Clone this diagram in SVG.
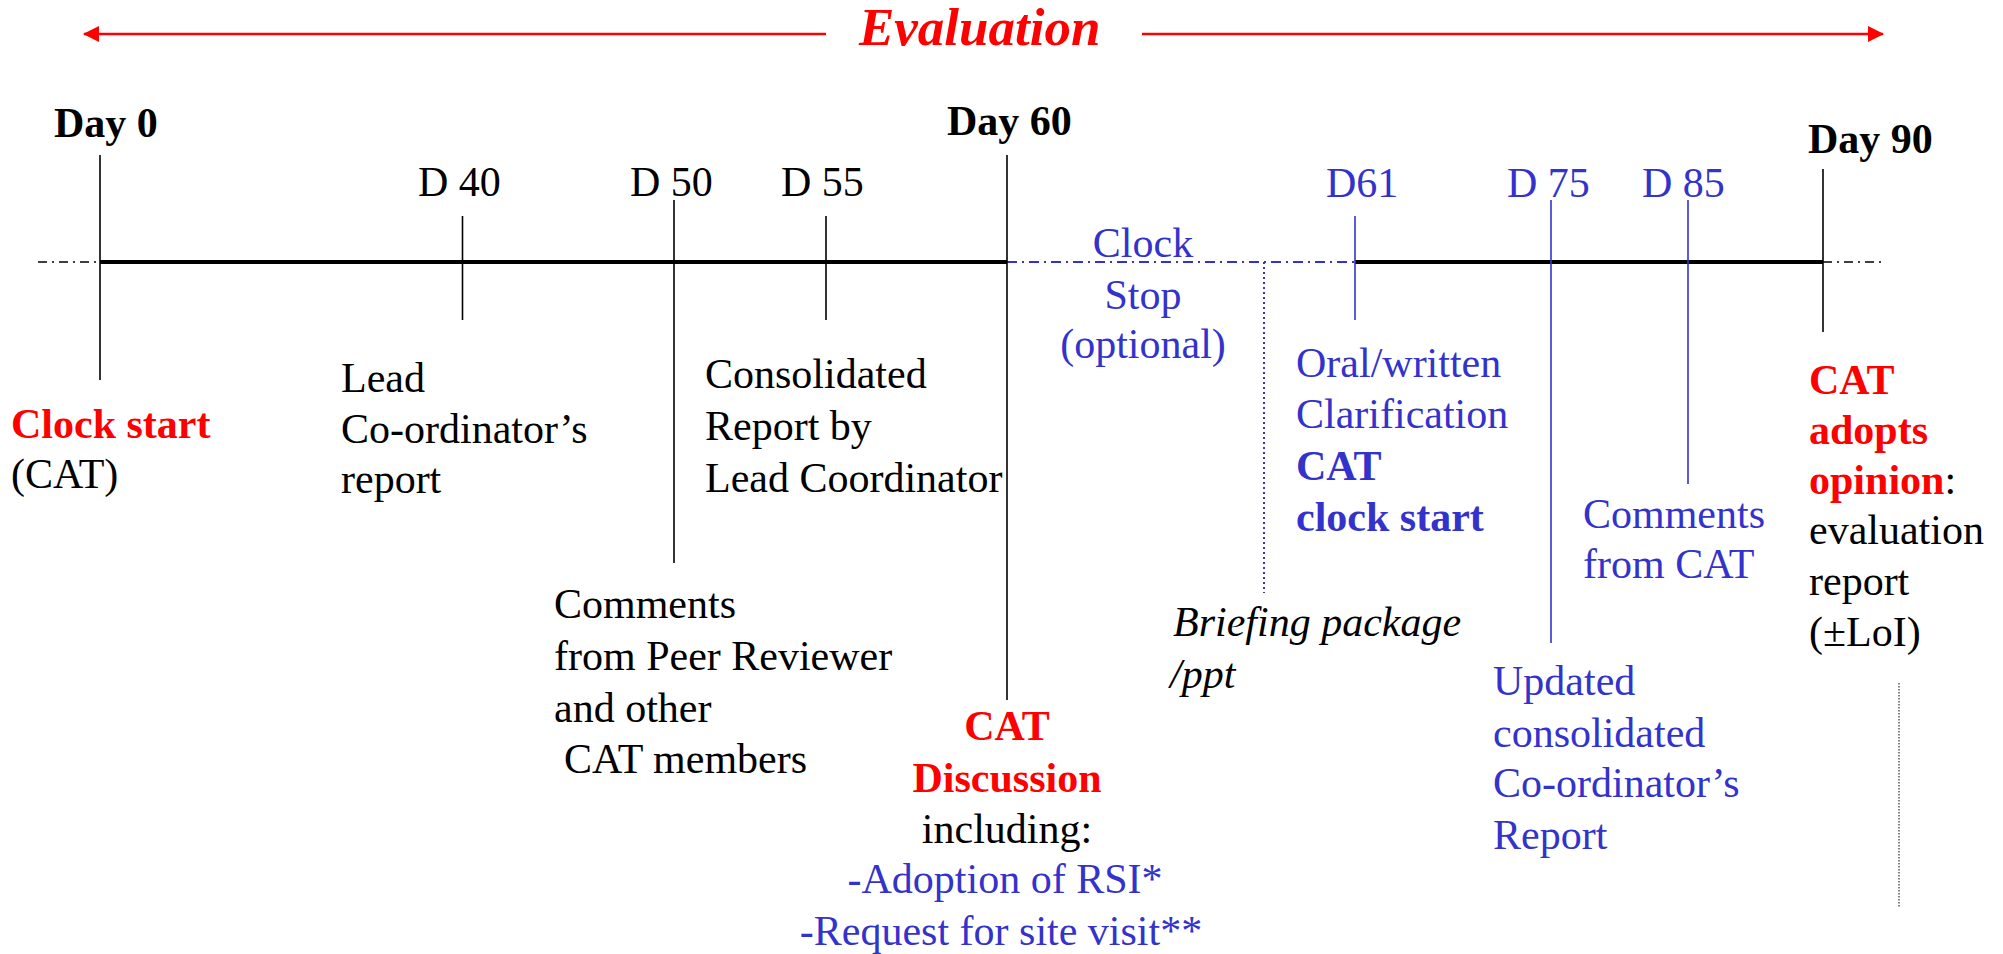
<svg xmlns="http://www.w3.org/2000/svg" width="2003" height="954" viewBox="0 0 2003 954">
<style>
text{font-family:"Liberation Serif","Times New Roman",serif;font-size:42px}
.b{font-weight:bold}
.i{font-style:italic}
.k{fill:#000}
.r{fill:#ff0000}
.u{fill:#3333cc}
.m{text-anchor:middle}
.vk{stroke:#000;stroke-width:1.6;fill:none}
.vu{stroke:#3333cc;stroke-width:1.6;fill:none}
</style>
<defs>
<marker id="ah" viewBox="0 0 16 16" refX="15" refY="8" markerWidth="16" markerHeight="16" markerUnits="userSpaceOnUse" orient="auto">
<path d="M0,0 L16,8 L0,16 Z" fill="#ff0000"/>
</marker>
</defs>
<g id="connectors">
<line x1="826" y1="34" x2="84" y2="34" stroke="#ff0000" stroke-width="2.6" marker-end="url(#ah)"/>
<line x1="1142" y1="34" x2="1883" y2="34" stroke="#ff0000" stroke-width="2.6" marker-end="url(#ah)"/>
<line x1="38" y1="262" x2="100" y2="262" stroke="#000" stroke-width="1.6" stroke-dasharray="9 5 2 5"/>
<line x1="100" y1="262" x2="1007" y2="262" stroke="#000" stroke-width="4"/>
<line x1="1007" y1="262" x2="1355" y2="262" stroke="#3333cc" stroke-width="1.8" stroke-dasharray="10 5 2 5"/>
<line x1="1355" y1="262" x2="1823" y2="262" stroke="#000" stroke-width="4"/>
<line x1="1823" y1="262" x2="1882" y2="262" stroke="#000" stroke-width="1.6" stroke-dasharray="9 5 2 5"/>
<line class="vk" x1="100" y1="155" x2="100" y2="380"/>
<line class="vk" x1="462.5" y1="216" x2="462.5" y2="320"/>
<line class="vk" x1="674" y1="200" x2="674" y2="563"/>
<line class="vk" x1="826" y1="216" x2="826" y2="320"/>
<line class="vk" x1="1007" y1="155" x2="1007" y2="700"/>
<line x1="1264" y1="262" x2="1264" y2="593" stroke="#3333cc" stroke-width="2" stroke-dasharray="2 3"/>
<line class="vu" x1="1355" y1="216" x2="1355" y2="320"/>
<line class="vu" x1="1551" y1="200" x2="1551" y2="643"/>
<line class="vu" x1="1688" y1="200" x2="1688" y2="484"/>
<line class="vk" x1="1823" y1="169" x2="1823" y2="332"/>
<line x1="1899" y1="683" x2="1899" y2="908" stroke="#555" stroke-width="1.5" stroke-dasharray="1.5 1.5"/>
</g>
<g id="evaluation"><text class="r b i" x="859" y="45" style="font-size:53px">Evaluation</text></g>
<g id="day0">
<text class="k b" x="54" y="137">Day 0</text>
<text class="r b" x="11" y="438">Clock start</text>
<text class="k" x="11" y="488">(CAT)</text>
</g>
<g id="d40">
<text class="k" x="418" y="196">D 40</text>
<text class="k" x="341" y="392">Lead</text>
<text class="k" x="341" y="443">Co-ordinator’s</text>
<text class="k" x="341" y="493">report</text>
</g>
<g id="d50">
<text class="k" x="630" y="196">D 50</text>
<text class="k" x="554" y="618">Comments</text>
<text class="k" x="554" y="670">from Peer Reviewer</text>
<text class="k" x="554" y="722">and other</text>
<text class="k" x="564" y="773">CAT members</text>
</g>
<g id="d55">
<text class="k" x="781" y="196">D 55</text>
<text class="k" x="705" y="388">Consolidated</text>
<text class="k" x="705" y="440">Report by</text>
<text class="k" x="705" y="492">Lead Coordinator</text>
</g>
<g id="day60">
<text class="k b" x="947" y="135">Day 60</text>
<text class="r b m" x="1007" y="740">CAT</text>
<text class="r b m" x="1007" y="792">Discussion</text>
<text class="k m" x="1007" y="843">including:</text>
<text class="u m" x="1005" y="893">-Adoption of RSI*</text>
<text class="u m" x="1001" y="945">-Request for site visit**</text>
</g>
<g id="clockstop">
<text class="u m" x="1143" y="257">Clock</text>
<text class="u m" x="1143" y="309">Stop</text>
<text class="u m" x="1143" y="358">(optional)</text>
</g>
<g id="briefing">
<text class="k i" x="1173" y="636">Briefing package</text>
<text class="k i" x="1170" y="688">/ppt</text>
</g>
<g id="d61">
<text class="u" x="1326" y="197">D61</text>
<text class="u" x="1296" y="377">Oral/written</text>
<text class="u" x="1296" y="428">Clarification</text>
<text class="u b" x="1296" y="480">CAT</text>
<text class="u b" x="1296" y="531">clock start</text>
</g>
<g id="d75">
<text class="u" x="1507" y="197">D 75</text>
<text class="u" x="1493" y="695">Updated</text>
<text class="u" x="1493" y="747">consolidated</text>
<text class="u" x="1493" y="797">Co-ordinator’s</text>
<text class="u" x="1493" y="849">Report</text>
</g>
<g id="d85">
<text class="u" x="1642" y="197">D 85</text>
<text class="u" x="1583" y="528">Comments</text>
<text class="u" x="1583" y="578">from CAT</text>
</g>
<g id="day90">
<text class="k b" x="1808" y="153">Day 90</text>
<text class="r b" x="1809" y="394">CAT</text>
<text class="r b" x="1809" y="444">adopts</text>
<text class="k" x="1809" y="494"><tspan class="r b">opinion</tspan>:</text>
<text class="k" x="1809" y="544">evaluation</text>
<text class="k" x="1809" y="595">report</text>
<text class="k" x="1809" y="646">(±LoI)</text>
</g>
</svg>
